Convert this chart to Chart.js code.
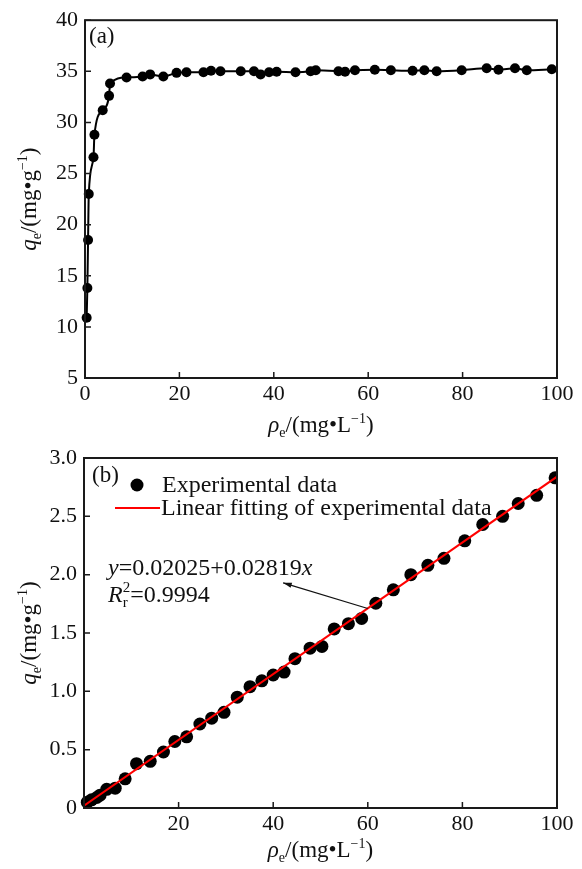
<!DOCTYPE html>
<html lang="en">
<head>
  <meta charset="UTF-8">
  <title>Adsorption isotherm and linear fit</title>
  <script src="https://cdn.jsdelivr.net/npm/chart.js@4.4.1/dist/chart.umd.min.js"></script>
  <style>
    body {
      margin: 0;
      background: #fff;
    }
    .wrap {
      position: relative;
      width: 582px;
      height: 869px;
    }
    canvas {
      position: absolute;
      left: 0;
      display: block;
    }
    #chartA { top: 0; }
    #chartB { top: 435px; }
  </style>
</head>
<body>
  <div class="wrap">
    <canvas id="chartA" width="582" height="445"></canvas>
    <canvas id="chartB" width="582" height="434"></canvas>
  </div>
  <script>
    // (a) isotherm
    const isoX = [0.35, 0.5, 0.65, 0.8, 1.8, 2.0, 3.75, 5.1, 5.3, 8.8, 12.2, 13.8, 16.6, 19.4, 21.5, 25.1, 26.7, 28.7, 33.0, 35.8,
                  37.2, 39.0, 40.6, 44.6, 47.8, 48.9, 53.7, 55.1, 57.2, 61.4, 64.8, 69.4, 71.9, 74.5, 79.8, 85.1, 87.6, 91.1, 93.6, 98.9];
    const isoY = [10.9, 13.8, 18.5, 23.0, 26.6, 28.8, 31.2, 32.6, 33.8, 34.4, 34.5, 34.7, 34.5, 34.85, 34.9, 34.9, 35.05, 35.0, 35.0, 35.0,
                  34.7, 34.9, 34.95, 34.9, 35.0, 35.1, 35.0, 34.95, 35.1, 35.15, 35.1, 35.05, 35.1, 35.0, 35.1, 35.3, 35.15, 35.3, 35.1, 35.2];

    // (b) linearised data
    const linX = [0.7, 1.6, 2.7, 3.4, 4.8, 6.6, 8.7, 11.1, 14.0, 16.8, 19.2, 21.7, 24.5, 27.0, 29.6, 32.4, 35.1, 37.6, 40.0, 42.3,
                  44.6, 47.8, 50.3, 52.9, 55.9, 58.7, 61.7, 65.4, 69.1, 72.7, 76.1, 80.5, 84.3, 88.5, 91.8, 95.7, 99.6];
    const linY = [0.05, 0.07, 0.09, 0.11, 0.16, 0.17, 0.25, 0.38, 0.40, 0.48, 0.57, 0.61, 0.72, 0.77, 0.82, 0.95, 1.04, 1.09, 1.14, 1.165,
                  1.28, 1.37, 1.385, 1.535, 1.58, 1.625, 1.755, 1.87, 2.0, 2.08, 2.14, 2.29, 2.43, 2.50, 2.61, 2.68, 2.83];
    const fitX = [0, 100];
    const fitY = [0.02, 2.84];

    const xTicks = [0, 20, 40, 60, 80, 100];
    const yTicksA = [5, 10, 15, 20, 25, 30, 35, 40];
    const yTicksB = [0, 0.5, 1.0, 1.5, 2.0, 2.5, 3.0];

    // arrow of the fit annotation (data coords)
    const arrowTail = [60.0, 1.71];
    const arrowHead = [42.1, 1.93];

    const SERIF = '"Liberation Serif", "Times New Roman", serif';

    // text with italics / sub / superscripts
    function drawRich(ctx, parts, x, y, size, align) {
      const items = [];
      let total = 0;
      parts.forEach(p => {
        const s = (p.sub || p.sup) ? Math.round(size * 0.62) : size;
        const font = (p.it ? 'italic ' : '') + s + 'px ' + SERIF;
        ctx.font = font;
        const w = ctx.measureText(p.t).width;
        const dy = p.sub ? size * 0.22 : p.sup ? -size * 0.4 : 0;
        if (p.stack && items.length) {
          const prev = items[items.length - 1];
          items.push({ t: p.t, font, x: prev.x, dy, w });
          total += Math.max(0, w - prev.w);
        } else {
          items.push({ t: p.t, font, x: total, dy, w });
          total += w;
        }
      });
      const x0 = align === 'center' ? x - total / 2 : x;
      ctx.save();
      ctx.fillStyle = '#111';
      ctx.textAlign = 'left';
      ctx.textBaseline = 'alphabetic';
      items.forEach(it => {
        ctx.font = it.font;
        ctx.fillText(it.t, x0 + it.x, y + it.dy);
      });
      ctx.restore();
    }

    const qTitle = [{ t: 'q', it: true }, { t: 'e', sub: true }, { t: '/(mg\u2022g' }, { t: '\u22121', sup: true }, { t: ')' }];
    const rhoTitle = [{ t: '\u03c1', it: true }, { t: 'e', sub: true }, { t: '/(mg\u2022L' }, { t: '\u22121', sup: true }, { t: ')' }];

    // frame, inward ticks and axis titles
    const framePlugin = {
      id: 'frame',
      afterDatasetsDraw(chart, args, opts) {
        const { ctx, chartArea: a, scales } = chart;
        ctx.save();
        ctx.strokeStyle = '#1a1a1a';
        ctx.lineWidth = 2;
        ctx.strokeRect(a.left, a.top, a.right - a.left, a.bottom - a.top);
        ctx.lineWidth = 1.5;
        ctx.beginPath();
        scales.x.ticks.forEach(t => {
          const px = scales.x.getPixelForValue(t.value);
          ctx.moveTo(px, a.bottom);
          ctx.lineTo(px, a.bottom - 6);
        });
        scales.y.ticks.forEach(t => {
          const py = scales.y.getPixelForValue(t.value);
          ctx.moveTo(a.left, py);
          ctx.lineTo(a.left + 6, py);
        });
        ctx.stroke();

        // panel letter
        ctx.fillStyle = '#111';
        ctx.font = '23px ' + SERIF;
        ctx.fillText(opts.letter, a.left + opts.letterDx, a.top + opts.letterDy);

        // axis titles
        drawRich(ctx, rhoTitle, (a.left + a.right) / 2, opts.xTitleY, 23, 'center');
        ctx.translate(36, (a.top + a.bottom) / 2);
        ctx.rotate(-Math.PI / 2);
        drawRich(ctx, qTitle, 0, 0, 23, 'center');
        ctx.restore();
      }
    };

    // legend + equation for panel b
    const notePlugin = {
      id: 'note',
      afterDraw(chart) {
        const { ctx, chartArea: a, scales } = chart;
        ctx.save();
        ctx.fillStyle = '#000';
        ctx.beginPath();
        ctx.arc(a.left + 53, a.top + 27, 6.5, 0, Math.PI * 2);
        ctx.fill();
        ctx.strokeStyle = '#ff0000';
        ctx.lineWidth = 2;
        ctx.beginPath();
        ctx.moveTo(a.left + 31, a.top + 50);
        ctx.lineTo(a.left + 76, a.top + 50);
        ctx.stroke();
        ctx.fillStyle = '#111';
        ctx.font = '24px ' + SERIF;
        ctx.fillText('Experimental data', a.left + 78, a.top + 34);
        ctx.fillText('Linear fitting of experimental data', a.left + 77, a.top + 57);

        drawRich(ctx, [{ t: 'y', it: true }, { t: '=0.02025+0.02819' }, { t: 'x', it: true }], a.left + 24, a.top + 117, 24, 'left');
        drawRich(ctx, [{ t: 'R', it: true }, { t: '2', sup: true }, { t: 'r', sub: true, stack: true }, { t: '=0.9994' }], a.left + 24, a.top + 144, 24, 'left');

        // arrow
        const x1 = scales.x.getPixelForValue(arrowTail[0]), y1 = scales.y.getPixelForValue(arrowTail[1]);
        const x2 = scales.x.getPixelForValue(arrowHead[0]), y2 = scales.y.getPixelForValue(arrowHead[1]);
        const ang = Math.atan2(y2 - y1, x2 - x1);
        ctx.strokeStyle = '#111';
        ctx.lineWidth = 1.3;
        ctx.beginPath();
        ctx.moveTo(x1, y1);
        ctx.lineTo(x2, y2);
        ctx.stroke();
        ctx.fillStyle = '#111';
        ctx.beginPath();
        ctx.moveTo(x2, y2);
        ctx.lineTo(x2 - 9 * Math.cos(ang - 0.3), y2 - 9 * Math.sin(ang - 0.3));
        ctx.lineTo(x2 - 9 * Math.cos(ang + 0.3), y2 - 9 * Math.sin(ang + 0.3));
        ctx.closePath();
        ctx.fill();
        ctx.restore();
      }
    };

    function axes(yMin, yMax, yTicks, yWidth, xHeight, yFmt, xFmt) {
      const tickFont = { family: SERIF, size: 22 };
      return {
        x: {
          type: 'linear',
          min: 0,
          max: 100,
          afterBuildTicks: s => { s.ticks = xTicks.map(v => ({ value: v })); },
          afterFit: s => { s.height = xHeight; },
          grid: { display: false, drawTicks: false },
          border: { display: false },
          ticks: { font: tickFont, color: '#111', padding: 3, maxRotation: 0, callback: xFmt }
        },
        y: {
          type: 'linear',
          min: yMin,
          max: yMax,
          afterBuildTicks: s => { s.ticks = yTicks.map(v => ({ value: v })); },
          afterFit: s => { s.width = yWidth; },
          grid: { display: false, drawTicks: false },
          border: { display: false },
          ticks: { font: tickFont, color: '#111', padding: 7, callback: yFmt }
        }
      };
    }

    Chart.defaults.animation = false;

    new Chart(document.getElementById('chartA'), {
      type: 'scatter',
      data: {
        datasets: [{
          data: isoX.map((x, i) => ({ x: x, y: isoY[i] })),
          showLine: true,
          borderColor: '#000',
          borderWidth: 2,
          pointRadius: 5,
          pointBackgroundColor: '#000',
          pointBorderWidth: 0,
          cubicInterpolationMode: 'monotone',
          clip: false
        }]
      },
      options: {
        responsive: false,
        devicePixelRatio: 1,
        layout: { padding: { top: 20, right: 25, left: 0, bottom: 0 } },
        plugins: {
          legend: { display: false },
          tooltip: { enabled: false },
          frame: { letter: '(a)', letterDx: 4, letterDy: 23, xTitleY: 432 }
        },
        scales: axes(5, 40, yTicksA, 85, 445 - 378, v => v, v => v)
      },
      plugins: [framePlugin]
    });

    new Chart(document.getElementById('chartB'), {
      type: 'scatter',
      data: {
        datasets: [{
          data: fitX.map((x, i) => ({ x: x, y: fitY[i] })),
          showLine: true,
          borderColor: '#ff0000',
          borderWidth: 2,
          pointRadius: 0,
          order: 0
        }, {
          data: linX.map((x, i) => ({ x: x, y: linY[i] })),
          pointRadius: 6.5,
          pointBackgroundColor: '#000',
          pointBorderWidth: 0,
          clip: { left: 10, top: 10, right: 0, bottom: 10 },
          order: 1
        }]
      },
      options: {
        responsive: false,
        devicePixelRatio: 1,
        layout: { padding: { top: 23, right: 25, left: 0, bottom: 0 } },
        plugins: {
          legend: { display: false },
          tooltip: { enabled: false },
          frame: { letter: '(b)', letterDx: 8, letterDy: 24, xTitleY: 422 }
        },
        scales: axes(0, 3, yTicksB, 84, 434 - 373, v => (v === 0 ? '0' : v.toFixed(1)), v => (v === 0 ? '' : v))
      },
      plugins: [framePlugin, notePlugin]
    });
  </script>
</body>
</html>
